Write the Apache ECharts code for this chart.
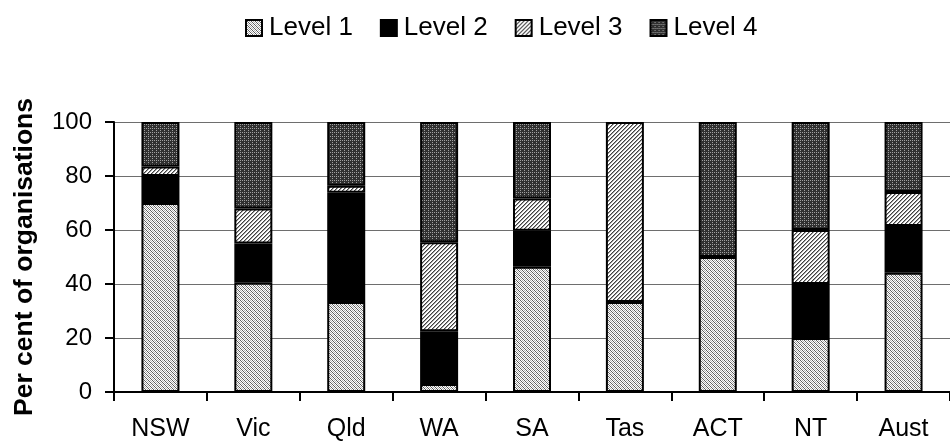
<!DOCTYPE html>
<html>
<head>
<meta charset="utf-8">
<script src="https://cdn.jsdelivr.net/npm/echarts@6/dist/echarts.min.js"></script>
<style>
  html, body { margin: 0; padding: 0; background: #fff; }
  #chart { width: 950px; height: 442px; }
</style>
</head>
<body>
<div id="chart"></div>
<script>
// Share of organisations at each level, by jurisdiction (per cent)
const categories = ['NSW', 'Vic', 'Qld', 'WA', 'SA', 'Tas', 'ACT', 'NT', 'Aust'];
const level1 = [70, 40.5, 33.3, 3, 46.4, 33.3, 50, 20, 44.2];
const level2 = [10, 14.5, 40.5, 19.5, 13.3, 0, 0, 20, 17.3];
const level3 = [3.5, 13, 2.6, 33, 12, 66.7, 0, 20, 12.6];
const level4 = [16.5, 32, 23.6, 44.5, 28.3, 0, 50, 40, 25.9];
const seriesNames = ['Level 1', 'Level 2', 'Level 3', 'Level 4'];
const yTicks = { min: 0, max: 100, step: 20 };

const FONT = '"Liberation Sans", Arial, sans-serif';

// Small pixel tiles used as repeating fill patterns
function makeTile(size, pick) {
  const c = document.createElement('canvas');
  c.width = size; c.height = size;
  const ctx = c.getContext('2d');
  for (let y = 0; y < size; y++) {
    for (let x = 0; x < size; x++) {
      ctx.fillStyle = pick(x, y);
      ctx.fillRect(x, y, 1, 1);
    }
  }
  return { image: c, repeat: 'repeat' };
}

const fillLevel1 = makeTile(4, (x, y) => {
  const d = ((x - y) % 4 + 4) % 4;
  return d === 0 ? '#5e5e5e' : d === 2 ? '#b0b0b0' : '#ffffff';
});
const fillLevel3 = makeTile(4, (x, y) => {
  const d = (x + y) % 4;
  return d === 0 ? '#404040' : d === 1 ? '#a0a0a0' : '#ffffff';
});
const fillLevel4 = makeTile(4, (x, y) => {
  if ((x === 0 || y === 0) && (x + y) % 2 === 0) return '#a0a0a0';
  return '#303030';
});

const fills = [fillLevel1, '#000000', fillLevel3, fillLevel4];
const values = [level1, level2, level3, level4];

const chart = echarts.init(document.getElementById('chart'), null, { renderer: 'canvas' });

chart.setOption({
  animation: false,
  backgroundColor: '#ffffff',
  textStyle: { fontFamily: FONT, color: '#000' },
  legend: {
    top: 10,
    left: 240,
    itemWidth: 16,
    itemHeight: 16,
    itemGap: 27,
    icon: 'rect',
    textStyle: { fontFamily: FONT, fontSize: 26, color: '#000', padding: [0, 0, 0, 2] },
    itemStyle: { borderColor: '#000', borderWidth: 2 },
    data: seriesNames
  },
  grid: { left: 114, top: 122, width: 845, height: 270, containLabel: false },
  xAxis: {
    type: 'category',
    data: categories,
    boundaryGap: true,
    axisLine: { show: true, lineStyle: { color: '#000', width: 2 } },
    axisTick: { show: true, interval: 0, length: 9, lineStyle: { color: '#000', width: 2 } },
    axisLabel: { interval: 0, margin: 25, fontSize: 25, color: '#000', fontFamily: FONT },
    splitLine: { show: false }
  },
  yAxis: {
    type: 'value',
    min: yTicks.min,
    max: yTicks.max,
    interval: yTicks.step,
    name: 'Per cent of organisations',
    nameLocation: 'middle',
    nameGap: 76,
    nameTextStyle: { fontSize: 26.5, fontWeight: 'bold', color: '#000', fontFamily: FONT },
    axisLine: { show: true, lineStyle: { color: '#000', width: 2 } },
    axisTick: { show: true, length: 9, lineStyle: { color: '#000', width: 2 } },
    axisLabel: { margin: 22, fontSize: 24, color: '#000', fontFamily: FONT },
    splitLine: { show: true, lineStyle: { color: '#6e6e6e', width: 1 } }
  },
  series: seriesNames.map((name, i) => ({
    name: name,
    type: 'bar',
    stack: 'total',
    barWidth: 38,
    // empty segments are skipped so they leave no outline of their own
    data: values[i].map(v => (v === 0 ? null : v)),
    itemStyle: { color: fills[i], borderColor: '#000', borderWidth: 2 },
    emphasis: { disabled: true }
  }))
});
</script>
</body>
</html>
